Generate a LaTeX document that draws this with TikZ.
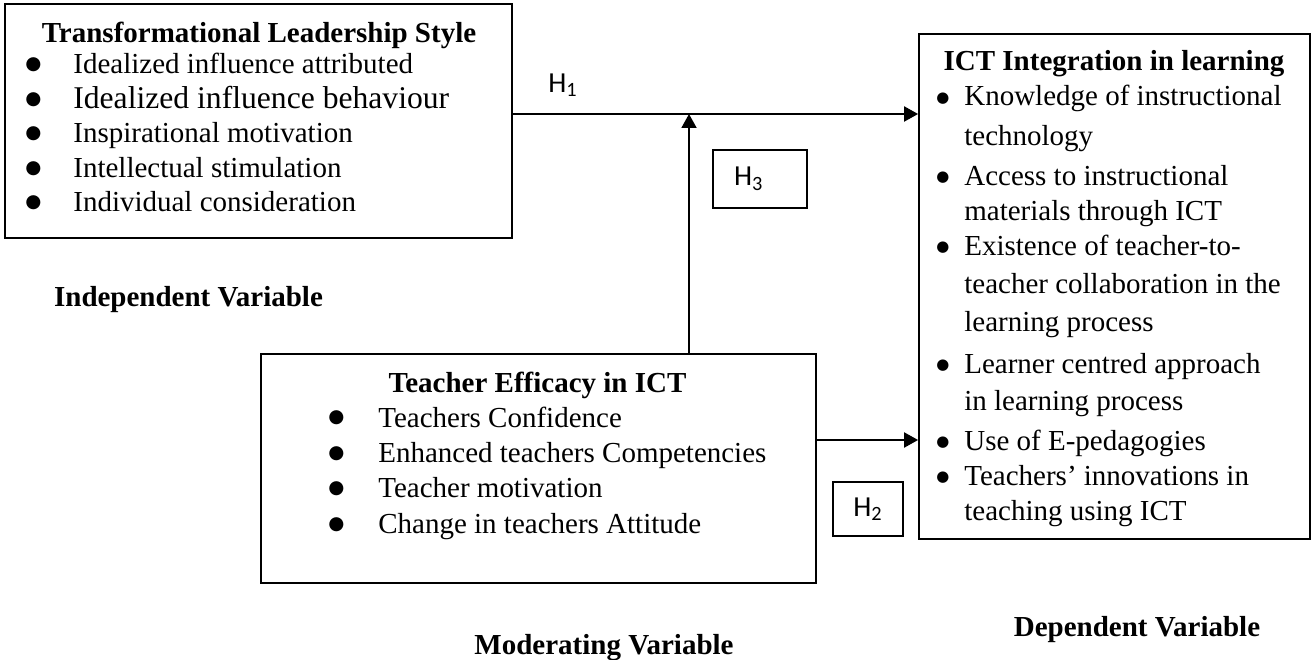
\documentclass[tikz,border=0pt]{standalone}
\usepackage{fontspec}
\setmainfont{Liberation Serif}
\newfontfamily\hypfont{Carlito}
\newfontfamily\dotfont{DejaVu Sans}
\usetikzlibrary{arrows.meta, positioning}

\newcommand{\bl}{\raisebox{2.4pt}{\dotfont\fontsize{10.5}{10}\selectfont ●}}
\newcommand{\sbl}{\raisebox{2.2pt}{\dotfont\fontsize{8.5}{8}\selectfont ●}}

\begin{document}
\begin{tikzpicture}[
  box/.style={draw, line width=1pt, inner sep=0pt},
  hbox/.style={draw, line width=0.6pt, inner sep=0pt, font=\hypfont\fontsize{16.5}{19}\selectfont},
  hlabel/.style={inner sep=0pt, font=\hypfont\fontsize{16.5}{19}\selectfont},
  head/.style={anchor=base, inner sep=0pt, font=\bfseries\fontsize{16.5}{20}\selectfont},
  items/.style={anchor=base west, inner sep=0pt},
  varlabel/.style={anchor=base, inner sep=0pt, font=\bfseries\fontsize{16.5}{20}\selectfont},
  arrow/.style={-{Triangle[length=0.28cm, width=0.3cm]}, line width=1.1pt}
]
\useasboundingbox (0,0) rectangle (26.22,-13.2);

% Independent variable
\node[box, minimum width=10.14cm, minimum height=4.68cm] (lts) at (5.17,-2.42) {};
\node[head] (ltshead) at (5.18,-0.86) {Transformational Leadership Style};
\node[items, font=\fontsize{16.5}{19.6}\selectfont] (ltsitems) at (0.5,-1.48) {%
  \begin{tabular}[t]{@{}p{0.96cm}@{}l@{}}
  \bl & Idealized influence attributed\\
  \bl & {\fontsize{18}{19.6}\selectfont Idealized influence behaviour}\\
  \bl & Inspirational motivation\\
  \bl & Intellectual stimulation\\
  \bl & Individual consideration
  \end{tabular}};

% Dependent variable
\node[box, minimum width=7.82cm, minimum height=10.1cm] (ict) at (22.29,-5.73) {};
\node[head] (icthead) at (22.28,-1.42) {ICT Integration in learning};
\node[items, font=\fontsize{16.5}{19.85}\selectfont] (ictitems) at (18.72,-2.12) {%
  \begin{tabular}[t]{@{}p{0.56cm}@{}l@{}}
  \sbl & Knowledge of instructional\\[2.8pt]
       & technology\\[2.8pt]
  \sbl & Access to instructional\\
       & materials through ICT\\
  \sbl & Existence of teacher-to-\\[1.7pt]
       & teacher collaboration in the\\[1.7pt]
       & learning process\\[4pt]
  \sbl & Learner centred approach\\[1.7pt]
       & in learning process\\[2.8pt]
  \sbl & Use of E-pedagogies\\
  \sbl & Teachers' innovations in\\
       & teaching using ICT
  \end{tabular}};

% Moderating variable
\node[box, minimum width=11.1cm, minimum height=4.58cm] (tei) at (10.77,-9.37) {};
\node[head] (teihead) at (10.75,-7.84) {Teacher Efficacy in ICT};
\node[items, font=\fontsize{16.5}{20.2}\selectfont] (teiitems) at (6.56,-8.54) {%
  \begin{tabular}[t]{@{}p{1.0cm}@{}l@{}}
  \bl & Teachers Confidence\\
  \bl & Enhanced teachers Competencies\\
  \bl & Teacher motivation\\
  \bl & Change in teachers Attitude
  \end{tabular}};

% Hypotheses
\coordinate (h1) at (0,-2.28);
\coordinate (mod) at (13.78,0);
\coordinate (h2) at (0,-8.8);
\draw[arrow] (lts.east |- h1) -- (ict.west |- h1);
\draw[arrow] (tei.north -| mod) -- (mod |- h1);
\draw[arrow] (tei.east |- h2) -- (ict.west |- h2);

\node[hlabel] (h1lab) at (11.26,-1.7) {H\textsubscript{1}};
\node[hbox, minimum height=1.16cm, inner xsep=0.42cm, text width=1.04cm, align=left] (h3) at (15.2,-3.58) {H\textsubscript{3}};
\node[hbox, minimum width=1.4cm, minimum height=1.08cm] (h2box) at (17.36,-10.18) {H\textsubscript{2}};

% Labels
\node[varlabel] at (3.77,-6.14) {Independent Variable};
\node[varlabel] at (12.08,-13.08) {Moderating Variable};
\node[varlabel] at (22.74,-12.72) {Dependent Variable};

\end{tikzpicture}
\end{document}
